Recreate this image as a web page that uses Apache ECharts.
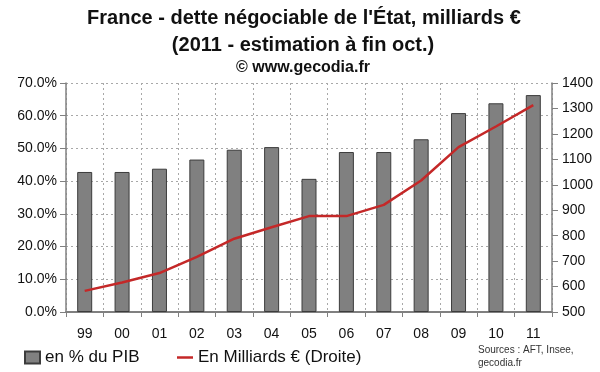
<!DOCTYPE html>
<html><head><meta charset="utf-8">
<script src="https://cdn.jsdelivr.net/npm/echarts@6/dist/echarts.min.js"></script>
<style>html,body{margin:0;padding:0;background:#fff}#c{width:600px;height:372px}</style>
</head><body><div id="c"></div>
<script>
const categories = ['99','00','01','02','03','04','05','06','07','08','09','10','11'];
const pctPIB = [42.8, 42.8, 43.8, 46.6, 49.6, 50.4, 40.7, 48.9, 48.9, 52.8, 60.8, 63.8, 66.3];
const milliards = [583, 616, 653, 717, 788, 833, 877, 877, 921, 1017, 1148, 1229, 1313];
const seriesNames = ['en % du PIB', 'En Milliards € (Droite)'];
const titleLines = ["France - dette négociable de l'État, milliards €", "(2011 - estimation à fin oct.)"];
const subtitle = '© www.gecodia.fr';
const sources = ['Sources : AFT, Insee,', 'gecodia.fr'];

const chart = echarts.init(document.getElementById('c'), null, {renderer:'canvas'});
const F = 'Liberation Sans, Arial, sans-serif';
chart.setOption({
  animation:false,
  backgroundColor:'#fff',
  textStyle:{fontFamily:F},
  graphic:[
    {type:'text', x:304, y:8, style:{text:titleLines[0], align:'center', font:'bold 20px '+F, fill:'#111'}},
    {type:'text', x:303, y:35, style:{text:titleLines[1], align:'center', font:'bold 20px '+F, fill:'#111'}},
    {type:'text', x:303, y:60, style:{text:subtitle, align:'center', font:'bold 16px '+F, fill:'#111'}},
    {type:'text', left:478, top:345, style:{text:sources[0], font:'10px '+F, fill:'#333'}},
    {type:'text', left:478, top:358, style:{text:sources[1], font:'10px '+F, fill:'#333'}}
  ],
  legend:[
    {left:24, top:349, padding:0, itemWidth:15, itemHeight:12, icon:'rect',
     textStyle:{fontSize:17, color:'#111', fontFamily:F},
     data:[seriesNames[0]]},
    {left:177, top:349, padding:0, itemWidth:16, itemHeight:2.5, icon:'rect',
     textStyle:{fontSize:17, color:'#111', fontFamily:F},
     data:[seriesNames[1]]}
  ],
  grid:{left:66, right:48, top:83, bottom:60},
  xAxis:{
    type:'category', data:categories, boundaryGap:true,
    axisLine:{lineStyle:{color:'#808080', width:2}},
    axisTick:{show:true, length:5, lineStyle:{color:'#808080'}},
    axisLabel:{color:'#111', fontSize:14, margin:15},
    splitLine:{show:true, lineStyle:{color:'#a8a8a8', type:[2,3], width:1}}
  },
  yAxis:[
    {type:'value', min:0, max:70, interval:10, position:'left',
     axisLine:{show:true, lineStyle:{color:'#808080', width:1.5}},
     axisTick:{show:true, length:6, lineStyle:{color:'#808080'}},
     axisLabel:{color:'#111', fontSize:14, margin:9, formatter:v=>v.toFixed(1)+'%'},
     splitLine:{show:true, lineStyle:{color:'#a8a8a8', type:[2,3], width:1}}},
    {type:'value', min:500, max:1400, interval:100, position:'right',
     axisLine:{show:true, lineStyle:{color:'#808080', width:1.5}},
     axisTick:{show:true, length:6, lineStyle:{color:'#808080'}},
     axisLabel:{color:'#111', fontSize:14, margin:10, formatter:v=>String(v)},
     splitLine:{show:false}}
  ],
  series:[
    {name:seriesNames[0], type:'bar', yAxisIndex:0, data:pctPIB, barWidth:15,
     itemStyle:{color:'#808080', borderColor:'#3c3c3c', borderWidth:1}},
    {name:seriesNames[1], type:'line', yAxisIndex:1, data:milliards, symbol:'none',
     lineStyle:{color:'#c42828', width:2.5}, itemStyle:{color:'#c42828'}}
  ]
});
</script></body></html>
